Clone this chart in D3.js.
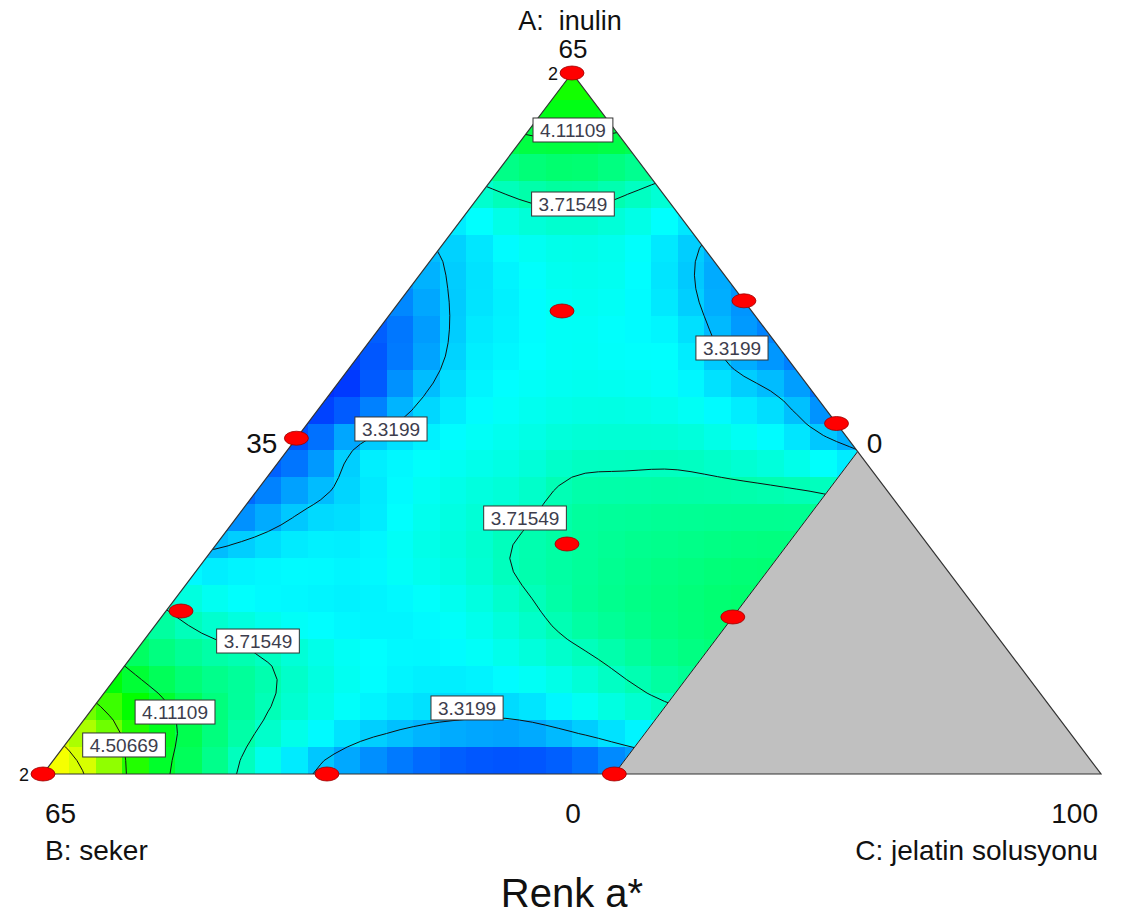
<!DOCTYPE html>
<html>
<head>
<meta charset="utf-8">
<script src="https://cdn.jsdelivr.net/npm/d3@7/dist/d3.min.js"></script>
<style>
body{margin:0;background:#fff;}
svg{display:block;}
text{font-family:Arial,"Liberation Sans",Helvetica,sans-serif;}
</style>
</head>
<body>
<svg id="chart" width="1133" height="918"></svg>
<script>
// ---------------- DATA ----------------
// grid columns: horizontal ternary coordinate u = C + A/2 (pseudo-components)
const gridU = [0,0.05,0.1,0.15,0.2,0.25,0.3,0.35,0.4,0.45,0.5,0.55,0.6,0.65,0.7,0.75,0.8,0.85,0.9,0.95,1];
// grid rows: pseudo A (inulin) from top vertex (1) to bottom edge (0)
const gridA = [1,0.9231,0.8462,0.7692,0.6923,0.6154,0.5385,0.4615,0.3846,0.3077,0.2308,0.1538,0.0769,0];
// predicted Renk a* at the grid nodes
const response = [
 [4.0,4.0,4.0,4.0,4.0,4.0,4.0,4.1,4.2,4.3,4.4,4.3,4.2,4.1,4.0,4.0,4.0,4.0,4.0,4.0,4.0],
 [3.9,3.9,3.9,3.9,3.9,3.9,3.9,3.95,4.05,4.15,4.17,4.14,4.05,3.95,3.9,3.9,3.9,3.9,3.9,3.9,3.9],
 [3.6,3.6,3.6,3.6,3.6,3.6,3.6,3.6,3.70,3.82,3.88,3.79,3.68,3.6,3.6,3.6,3.6,3.6,3.6,3.6,3.6],
 [3.2,3.2,3.2,3.2,3.2,3.2,3.2,3.30,3.42,3.55,3.60,3.56,3.42,3.25,3.2,3.2,3.2,3.2,3.2,3.2,3.2],
 [3.0,3.0,3.0,3.0,3.0,3.0,3.05,3.2,3.38,3.48,3.55,3.52,3.38,3.2,3.1,3.05,3.05,3.05,3.05,3.05,3.05],
 [2.9,2.9,2.9,2.9,2.9,2.9,2.95,3.12,3.41,3.48,3.53,3.50,3.47,3.25,3.10,3.0,3.0,3.0,3.0,3.0,3.0],
 [2.85,2.85,2.85,2.85,2.85,2.85,2.95,3.28,3.45,3.52,3.56,3.56,3.52,3.42,3.31,3.05,3.05,3.05,3.05,3.05,3.05],
 [2.95,2.95,2.95,2.95,2.95,3.05,3.38,3.47,3.53,3.58,3.65,3.66,3.66,3.60,3.52,3.38,3.25,3.3,3.3,3.3,3.3],
 [2.95,2.95,2.95,2.98,3.12,3.31,3.40,3.52,3.60,3.66,3.78,3.80,3.81,3.81,3.80,3.77,3.7,3.7,3.7,3.7,3.7],
 [3.5,3.5,3.5,3.38,3.44,3.48,3.47,3.55,3.62,3.74,3.80,3.85,3.88,3.91,3.92,3.9,3.9,3.9,3.9,3.9,3.9],
 [4.0,3.9,3.78,3.62,3.52,3.48,3.46,3.48,3.55,3.66,3.79,3.86,3.91,3.95,3.95,3.9,3.9,3.9,3.9,3.9,3.9],
 [4.5,4.25,4.0,3.85,3.77,3.62,3.52,3.47,3.48,3.55,3.64,3.75,3.85,3.9,3.9,3.9,3.9,3.9,3.9,3.9,3.9],
 [4.88,4.62,4.28,3.98,3.75,3.58,3.45,3.37,3.325,3.325,3.43,3.55,3.65,3.7,3.7,3.7,3.7,3.7,3.7,3.7,3.7],
 [5.02,4.85,4.25,3.93,3.60,3.33,3.12,2.98,2.90,2.88,2.92,3.08,3.2,3.3,3.3,3.3,3.3,3.3,3.3,3.3,3.3]
];
const levels = [3.3199, 3.71549, 4.11109, 4.50669, 4.90229];
const colorStops = [2.7, 3.5, 4.3, 5.0, 5.7];
const colorNames = ["#0000ff","#00ffff","#00ff00","#ffff00","#ff0000"];
// constraint on C (pseudo) – region beyond is shaded grey
const cMax = 0.54;
// design points (pseudo A, pseudo C) and replicate counts
const designA = [1, 0.6605, 0.675, 0.5, 0.479, 0.3281, 0.2325, 0.224, 0, 0, 0];
const designC = [0, 0.1603, 0.325, 0.5, 0, 0.3312, 0.0142, 0.54, 0, 0.2684, 0.54];
const designReps = [2,1,1,1,1,1,1,1,2,1,1];
// contour label annotations (text, u, pseudo A)
const labelText = ["4.11109","3.71549","3.3199","3.3199","3.71549","3.71549","4.11109","4.50669","3.3199"];
const labelU = [0.5009,0.5009,0.6512,0.3289,0.4556,0.2032,0.1248,0.0766,0.4008];
const labelA = [0.9187,0.8131,0.6077,0.4922,0.3652,0.1897,0.0884,0.0414,0.0942];
// axis texts
const compNames = ["A:  inulin","B: seker","C: jelatin solusyonu"];
const vertexLabels = ["65","65","100"];
const edgeLabels = ["35","0","0"];
const title = "Renk a*";

// ---------------- DRAW ----------------
const svg = d3.select("#chart");
const x = d3.scaleLinear().domain([0,1]).range([43,1101]);
const y = d3.scaleLinear().domain([0,1]).range([774,73]);
const P = (u,a) => [x(u), y(a)];
const color = d3.scaleLinear().domain(colorStops).range(colorNames).clamp(true);

const nU = gridU.length, nA = gridA.length;
const iu = d3.scaleLinear().domain([gridU[0], gridU[nU-1]]).range([0, nU-1]);
const ia = d3.scaleLinear().domain([gridA[0], gridA[nA-1]]).range([0, nA-1]);
function cr(p0,p1,p2,p3,t){
  return p1 + 0.5*t*(p2-p0 + t*(2*p0-5*p1+4*p2-p3 + t*(3*(p1-p2)+p3-p0)));
}
function g(r,c){
  r = Math.max(0, Math.min(nA-1, r)); c = Math.max(0, Math.min(nU-1, c));
  return response[r][c];
}
function sample(u,a){
  const gx = iu(u), gy = ia(a);
  const i = Math.max(0, Math.min(nU-2, Math.floor(gx)));
  const j = Math.max(0, Math.min(nA-2, Math.floor(gy)));
  const tx = gx - i, ty = gy - j;
  const rows = [];
  for (let r=-1; r<=2; r++) rows.push(cr(g(j+r,i-1), g(j+r,i), g(j+r,i+1), g(j+r,i+2), tx));
  return cr(rows[0], rows[1], rows[2], rows[3], ty);
}

const defs = svg.append("defs");
const region = [P(0.5,1), P(cMax + (1-cMax)/2, 1-cMax), P(cMax,0), P(0,0)];
defs.append("clipPath").attr("id","reg").append("polygon")
  .attr("points", region.map(p=>p.join(",")).join(" "));

// heat cells
const cellsU = 40, cellsA = 26;
const heat = svg.append("g").attr("clip-path","url(#reg)").attr("shape-rendering","crispEdges");
for (let m=0; m<cellsA; m++){
  for (let k=0; k<cellsU; k++){
    const u0 = k/cellsU, u1 = (k+1)/cellsU;
    const a0 = 1 - m/cellsA, a1 = 1 - (m+1)/cellsA;
    const v = sample((u0+u1)/2, (a0+a1)/2);
    heat.append("rect")
      .attr("x", x(u0)).attr("y", y(a0))
      .attr("width", x(u1)-x(u0)+0.6).attr("height", y(a1)-y(a0)+0.6)
      .attr("fill", color(v));
  }
}

// contours (fine resampling + light smoothing)
const F = 4;
const nx = (nU-1)*F+1, ny = (nA-1)*F+1;
let vals = new Array(nx*ny);
for (let j=0;j<ny;j++) for (let k=0;k<nx;k++){
  vals[j*nx+k] = sample(k/(nx-1), 1 - j/(ny-1));
}
function smooth(src){
  const tmp = new Array(nx*ny), out = new Array(nx*ny);
  for (let j=0;j<ny;j++) for (let k=0;k<nx;k++){
    const l = src[j*nx+Math.max(0,k-1)], c = src[j*nx+k], r = src[j*nx+Math.min(nx-1,k+1)];
    tmp[j*nx+k] = (l+2*c+r)/4;
  }
  for (let j=0;j<ny;j++) for (let k=0;k<nx;k++){
    const t = tmp[Math.max(0,j-1)*nx+k], c = tmp[j*nx+k], b = tmp[Math.min(ny-1,j+1)*nx+k];
    out[j*nx+k] = (t+2*c+b)/4;
  }
  return out;
}
vals = smooth(vals);
const cs = d3.contours().size([nx,ny]).thresholds(levels)(vals);
const line = d3.line();
const cg = svg.append("g").attr("clip-path","url(#reg)");
cs.forEach(c => {
  c.coordinates.forEach(poly => poly.forEach(ring => {
    const pts = ring.map(([gx,gy]) => P((gx-0.5)/(nx-1), 1-(gy-0.5)/(ny-1)));
    cg.append("path").attr("d", line(pts)).attr("fill","none")
      .attr("stroke","#101010").attr("stroke-width",1);
  }));
});

// grey constrained region
const G1 = P(cMax + (1-cMax)/2, 1-cMax), G2 = P(cMax,0), BR = P(1,0);
svg.append("polygon").attr("points",[G1,G2,BR].map(p=>p.join(",")).join(" "))
  .attr("fill","#c0c0c0").attr("stroke","none");
svg.append("line").attr("x1",G1[0]).attr("y1",G1[1]).attr("x2",G2[0]).attr("y2",G2[1])
  .attr("stroke","#222").attr("stroke-width",1);

// triangle outline
const T = P(0.5,1), BL = P(0,0);
svg.append("polygon").attr("points",[T,BL,BR].map(p=>p.join(",")).join(" "))
  .attr("fill","none").attr("stroke","#333").attr("stroke-width",1.2);

// contour labels
labelText.forEach((t,i) => {
  const [cx,cy] = P(labelU[i], labelA[i]);
  const gg = svg.append("g");
  const rect = gg.append("rect");
  const tx = gg.append("text").attr("x",cx).attr("y",cy+7).attr("text-anchor","middle")
    .attr("font-size",19).attr("fill","#3d3d4d").text(t);
  const w = tx.node().getComputedTextLength() + 14;
  rect.attr("x",cx-w/2).attr("y",cy-12).attr("width",w).attr("height",24)
    .attr("fill","#fff").attr("stroke","#333").attr("stroke-width",1);
});

// design points
designA.forEach((a,i) => {
  const c = designC[i];
  const [px,py] = P(c + a/2, a);
  svg.append("ellipse").attr("cx",px).attr("cy",py).attr("rx",12).attr("ry",7)
    .attr("fill","#ff0000").attr("stroke","#900").attr("stroke-width",0.8);
  if (designReps[i] > 1){
    svg.append("text").attr("x",px-14).attr("y",py+7).attr("text-anchor","end")
      .attr("font-size",18).attr("fill","#111").text(designReps[i]);
  }
});

// axis texts
svg.append("text").attr("x",T[0]-2).attr("y",30).attr("text-anchor","middle")
  .attr("font-size",27).attr("fill","#111").style("white-space","pre").text(compNames[0]);
svg.append("text").attr("x",T[0]+1).attr("y",58).attr("text-anchor","middle")
  .attr("font-size",26).attr("fill","#111").text(vertexLabels[0]);
svg.append("text").attr("x",BL[0]+2).attr("y",823).attr("text-anchor","start")
  .attr("font-size",28).attr("fill","#111").text(vertexLabels[1]);
svg.append("text").attr("x",BL[0]+2).attr("y",860).attr("text-anchor","start")
  .attr("font-size",28).attr("fill","#111").text(compNames[1]);
svg.append("text").attr("x",BR[0]-3).attr("y",823).attr("text-anchor","end")
  .attr("font-size",28).attr("fill","#111").text(vertexLabels[2]);
svg.append("text").attr("x",BR[0]-3).attr("y",860).attr("text-anchor","end")
  .attr("font-size",28).attr("fill","#111").text(compNames[2]);
const lE = P((1-cMax)/2, 1-cMax), rE = G1;
svg.append("text").attr("x",lE[0]-9).attr("y",lE[1]+1).attr("text-anchor","end")
  .attr("font-size",28).attr("fill","#111").text(edgeLabels[0]);
svg.append("text").attr("x",rE[0]+9).attr("y",rE[1]+1).attr("text-anchor","start")
  .attr("font-size",28).attr("fill","#111").text(edgeLabels[1]);
svg.append("text").attr("x",x(0.5)+1).attr("y",823).attr("text-anchor","middle")
  .attr("font-size",28).attr("fill","#111").text(edgeLabels[2]);
svg.append("text").attr("x",x(0.5)).attr("y",907).attr("text-anchor","middle")
  .attr("font-size",40).attr("fill","#111").text(title);
</script>
</body>
</html>
